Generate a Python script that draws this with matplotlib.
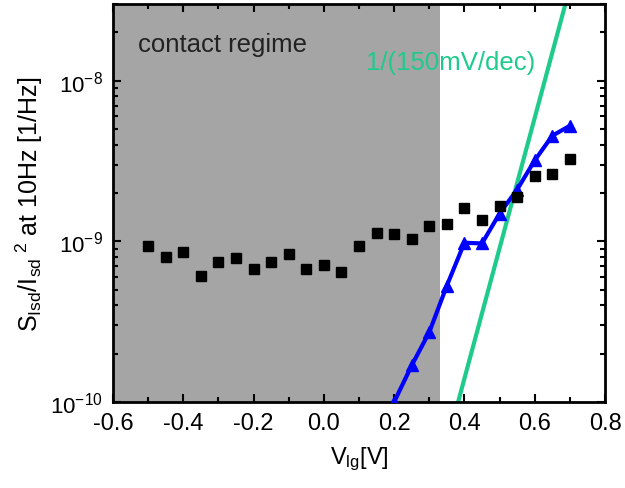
import numpy as np
import matplotlib
matplotlib.use('Agg')
import matplotlib.pyplot as plt
from matplotlib.ticker import MultipleLocator, LogLocator, NullFormatter

plt.rcParams['font.family'] = ['Liberation Sans', 'DejaVu Sans']
plt.rcParams['mathtext.fontset'] = 'custom'
plt.rcParams['mathtext.rm'] = 'Liberation Sans'
plt.rcParams['mathtext.it'] = 'Liberation Sans'

# black squares (noise)
vg_sq = [-0.5, -0.45, -0.4, -0.35, -0.3, -0.25, -0.2, -0.15, -0.1, -0.05, 0.0, 0.05,
         0.1, 0.15, 0.2, 0.25, 0.3, 0.35, 0.4, 0.45, 0.5, 0.55, 0.6, 0.65, 0.7]
s_sq = [9.3e-10, 8.0e-10, 8.6e-10, 6.1e-10, 7.4e-10, 7.9e-10, 6.7e-10, 7.4e-10, 8.3e-10,
        6.7e-10, 7.1e-10, 6.4e-10, 9.3e-10, 1.13e-9, 1.11e-9, 1.03e-9, 1.24e-9, 1.29e-9,
        1.62e-9, 1.35e-9, 1.67e-9, 1.89e-9, 2.54e-9, 2.61e-9, 3.27e-9]

# blue triangles
vg_tri = [0.2, 0.25, 0.3, 0.35, 0.4, 0.45, 0.5, 0.55, 0.6, 0.65, 0.7]
s_tri = [1.0e-10, 1.69e-10, 2.72e-10, 5.3e-10, 9.8e-10, 9.7e-10, 1.49e-9, 2.1e-9,
         3.19e-9, 4.54e-9, 5.24e-9]

# green reference line endpoints
vg_ref = [0.382, 0.70]
s_ref = [1.0e-10, 3.8e-8]

contact_x = [-0.6, 0.33]

fig = plt.figure(figsize=(6.25, 4.89), dpi=100)
ax = fig.add_axes([113 / 625, 1 - 403 / 489, (605 - 113) / 625, (403 - 5) / 489])

ax.axvspan(contact_x[0], contact_x[1], color='#a5a5a5', lw=0, zorder=0)
ax.plot(vg_ref, s_ref, color='#1ecb8b', lw=3, zorder=2)
ax.plot(vg_tri, s_tri, color='#0000ff', lw=3, marker='^', ms=9, zorder=3)
ax.plot(vg_sq, s_sq, ls='none', marker='s', color='black', ms=7, zorder=4)

ax.set_yscale('log')
ax.set_xlim(-0.6, 0.8)
ax.set_ylim(1e-10, 3e-8)

ax.xaxis.set_major_locator(MultipleLocator(0.2))
ax.xaxis.set_minor_locator(MultipleLocator(0.1))
ax.yaxis.set_major_locator(LogLocator(base=10, numticks=10))
ax.yaxis.set_minor_locator(LogLocator(base=10, subs=np.arange(2, 10), numticks=10))
ax.yaxis.set_minor_formatter(NullFormatter())
ax.xaxis.set_major_formatter(plt.FuncFormatter(lambda v, p: f'{v:.1f}'.replace('-0.0', '0.0')))

ax.tick_params(which='both', direction='in', top=True, right=True, width=1.5)
ax.tick_params(axis='x', labelsize=17)
ax.tick_params(axis='y', labelsize=16)
ax.tick_params(which='major', length=6, pad=7)
ax.tick_params(which='minor', length=3.5)
for s in ax.spines.values():
    s.set_linewidth(2)

ax.text(-0.53, 1.69e-8, 'contact regime', fontsize=18.5, color='#222222', va='center')
ax.text(0.12, 1.31e-8, '1/(150mV/dec)', fontsize=18.5, color='#1ecb8b', va='center')

ax.set_xlabel(r'V$_{\mathregular{lg}}$[V]', fontsize=17, labelpad=8)
ax.set_ylabel(r'S$_{\mathregular{Isd}}$/I$_{\mathregular{sd}}$$^{\mathregular{\ 2}}$ at 10Hz [1/Hz]',
              fontsize=18, labelpad=4)

fig.savefig('out.png', dpi=100)
